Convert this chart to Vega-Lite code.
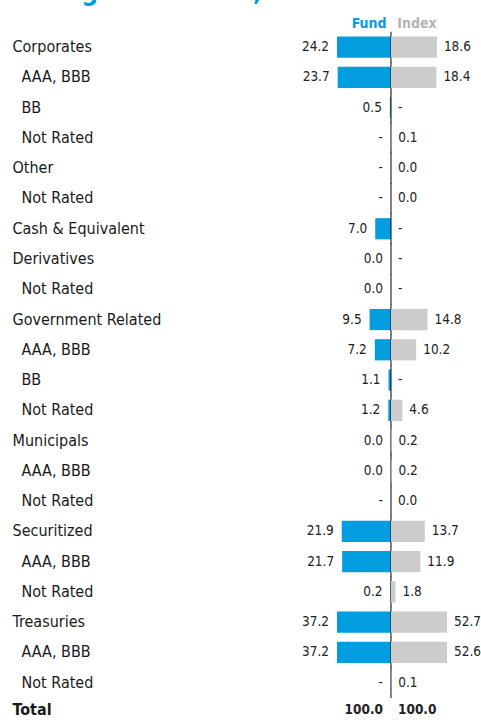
{
  "$schema": "https://vega.github.io/schema/vega-lite/v6.json",
  "autosize": {"type": "none"},
  "width": 110,
  "height": {"step": 30.26},
  "padding": {"left": 337, "top": 32.07, "right": 34, "bottom": 0},
  "title": {"text": "Rating breakdown, %", "anchor": "start", "color": "#009ddf", "font": "DejaVu Sans Condensed, sans-serif", "fontSize": 26, "fontWeight": "bold", "offset": 11},
  "config": {
    "view": {"stroke": null},
    "text": {"font": "DejaVu Sans Condensed, sans-serif", "fontSize": 13.5, "color": "#222222", "baseline": "middle"}
  },
  "data": {"values": [
    {"key": "01|m|Corporates", "fund": 24.2, "index": 18.6},
    {"key": "02|s|AAA, BBB", "fund": 23.7, "index": 18.4},
    {"key": "03|s|BB", "fund": 0.5, "index": null},
    {"key": "04|s|Not Rated", "fund": null, "index": 0.1},
    {"key": "05|m|Other", "fund": null, "index": 0.0},
    {"key": "06|s|Not Rated", "fund": null, "index": 0.0},
    {"key": "07|m|Cash & Equivalent", "fund": 7.0, "index": null},
    {"key": "08|m|Derivatives", "fund": 0.0, "index": null},
    {"key": "09|s|Not Rated", "fund": 0.0, "index": null},
    {"key": "10|m|Government Related", "fund": 9.5, "index": 14.8},
    {"key": "11|s|AAA, BBB", "fund": 7.2, "index": 10.2},
    {"key": "12|s|BB", "fund": 1.1, "index": null},
    {"key": "13|s|Not Rated", "fund": 1.2, "index": 4.6},
    {"key": "14|m|Municipals", "fund": 0.0, "index": 0.2},
    {"key": "15|s|AAA, BBB", "fund": 0.0, "index": 0.2},
    {"key": "16|s|Not Rated", "fund": null, "index": 0.0},
    {"key": "17|m|Securitized", "fund": 21.9, "index": 13.7},
    {"key": "18|s|AAA, BBB", "fund": 21.7, "index": 11.9},
    {"key": "19|s|Not Rated", "fund": 0.2, "index": 1.8},
    {"key": "20|m|Treasuries", "fund": 37.2, "index": 52.7},
    {"key": "21|s|AAA, BBB", "fund": 37.2, "index": 52.6},
    {"key": "22|s|Not Rated", "fund": null, "index": 0.1},
    {"key": "23|t|Total", "fund": 100.0, "index": 100.0, "total": true}
  ]},
  "encoding": {
    "y": {
      "field": "key", "type": "nominal", "title": null,
      "scale": {"paddingInner": 0, "paddingOuter": 0},
      "axis": {
        "orient": "left",
        "labelExpr": "split(datum.value, '|')[2]",
        "labelAlign": "left",
        "labelPadding": {"condition": {"test": "split(datum.value, '|')[1] == 's'", "value": 316}, "value": 325},
        "labelOffset": {"condition": {"test": "split(datum.value, '|')[1] == 't'", "value": -2.5}, "value": 0},
        "ticks": false,
        "domain": false,
        "grid": false,
        "labelLimit": 0,
        "labelFont": "DejaVu Sans Condensed, sans-serif",
        "labelFontSize": 16,
        "labelColor": "#1a1a1a",
        "labelFontWeight": {"condition": {"test": "split(datum.value, '|')[1] == 't'", "value": "bold"}, "value": "normal"}
      }
    }
  },
  "layer": [
    {
      "layer": [
        {
          "transform": [{"filter": "!datum.total && isValid(datum.fund)"}],
          "mark": {"type": "bar", "color": "#009ddf", "height": {"band": 0.7}},
          "encoding": {
            "x": {"field": "fund", "type": "quantitative", "scale": {"domain": [-24.9, 24], "reverse": true, "clamp": true, "nice": false, "zero": false}, "axis": null},
            "x2": {"datum": 0}
          }
        },
        {
          "transform": [{"filter": "!datum.total && isValid(datum.fund)"}],
          "mark": {"type": "text", "align": "right", "dx": -8},
          "encoding": {
            "x": {"field": "fund", "type": "quantitative", "scale": {"domain": [-24.9, 24], "reverse": true, "clamp": true, "nice": false, "zero": false}, "axis": null},
            "text": {"field": "fund", "format": ".1f"}
          }
        },
        {
          "transform": [{"filter": "!datum.total && !isValid(datum.fund)"}],
          "mark": {"type": "text", "align": "right", "dx": -8},
          "encoding": {
            "x": {"datum": 0, "type": "quantitative", "scale": {"domain": [-24.9, 24], "reverse": true, "clamp": true, "nice": false, "zero": false}, "axis": null},
            "text": {"value": "-"}
          }
        },
        {
          "transform": [{"filter": "datum.total"}],
          "mark": {"type": "text", "align": "right", "dx": -8, "dy": -2.5, "fontWeight": "bold"},
          "encoding": {
            "x": {"datum": 0, "type": "quantitative", "scale": {"domain": [-24.9, 24], "reverse": true, "clamp": true, "nice": false, "zero": false}, "axis": null},
            "text": {"field": "fund", "format": ".1f"}
          }
        },
        {
          "transform": [{"filter": "!datum.total"}],
          "mark": {"type": "tick", "orient": "vertical", "color": "#111111", "thickness": 1.5, "size": 30.8},
          "encoding": {
            "x": {"datum": 0, "type": "quantitative", "scale": {"domain": [-24.9, 24], "reverse": true, "clamp": true, "nice": false, "zero": false}, "axis": null}
          }
        }
      ]
    },
    {
      "layer": [
        {
          "transform": [{"filter": "!datum.total && isValid(datum.index)"}],
          "mark": {"type": "bar", "color": "#cccccc", "height": {"band": 0.7}},
          "encoding": {
            "x": {
              "field": "index", "type": "quantitative", "title": null,
              "scale": {"domain": [-21.9, 22.7], "clamp": true, "nice": false, "zero": false},
              "axis": {
                "orient": "top",
                "values": [-9.1, 10.3],
                "labelExpr": "datum.value < 0 ? 'Fund' : 'Index'",
                "labelColor": {"condition": {"test": "datum.value < 0", "value": "#009ddf"}, "value": "#b3b3b3"},
                "labelFont": "DejaVu Sans Condensed, sans-serif",
                "labelFontWeight": "bold",
                "labelFontSize": 14,
                "labelPadding": 2,
                "labelFlush": false,
                "labelOverlap": false,
                "ticks": false,
                "domain": false,
                "grid": false
              }
            },
            "x2": {"datum": 0}
          }
        },
        {
          "transform": [{"filter": "!datum.total && isValid(datum.index)"}],
          "mark": {"type": "text", "align": "left", "dx": 7},
          "encoding": {
            "x": {"field": "index", "type": "quantitative", "scale": {"domain": [-21.9, 22.7], "clamp": true, "nice": false, "zero": false}},
            "text": {"field": "index", "format": ".1f"}
          }
        },
        {
          "transform": [{"filter": "!datum.total && !isValid(datum.index)"}],
          "mark": {"type": "text", "align": "left", "dx": 7},
          "encoding": {
            "x": {"datum": 0, "type": "quantitative", "scale": {"domain": [-21.9, 22.7], "clamp": true, "nice": false, "zero": false}},
            "text": {"value": "-"}
          }
        },
        {
          "transform": [{"filter": "datum.total"}],
          "mark": {"type": "text", "align": "left", "dx": 7, "dy": -2.5, "fontWeight": "bold"},
          "encoding": {
            "x": {"datum": 0, "type": "quantitative", "scale": {"domain": [-21.9, 22.7], "clamp": true, "nice": false, "zero": false}},
            "text": {"field": "index", "format": ".1f"}
          }
        }
      ]
    }
  ],
  "resolve": {"scale": {"x": "independent"}, "axis": {"x": "independent"}}
}
